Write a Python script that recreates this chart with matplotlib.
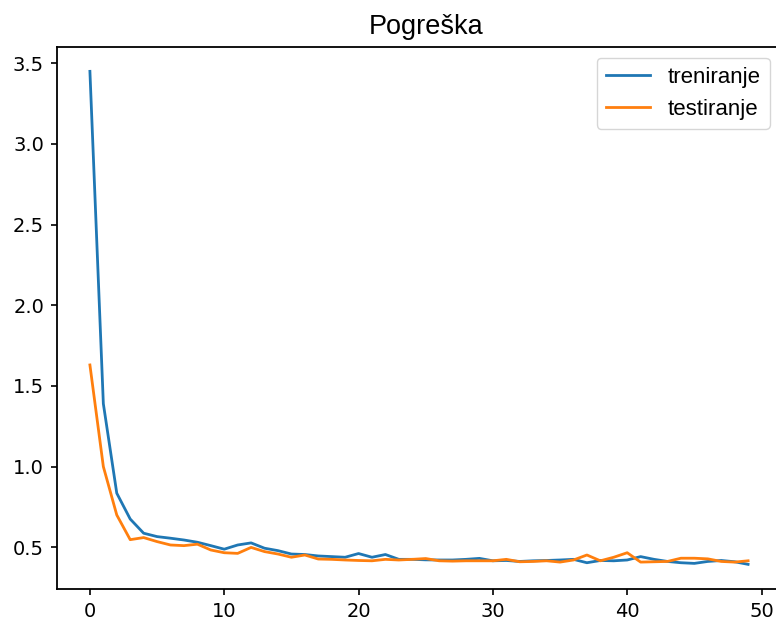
import numpy as np
import matplotlib
matplotlib.use("Agg")
import matplotlib.pyplot as plt

# loss per epoch
epochs = np.arange(50)
trainLoss = [3.45, 1.39, 0.835, 0.675, 0.587, 0.566, 0.556, 0.545, 0.531, 0.51,
             0.488, 0.514, 0.527, 0.494, 0.479, 0.458, 0.455, 0.446, 0.442, 0.438,
             0.461, 0.438, 0.455, 0.425, 0.425, 0.422, 0.421, 0.421, 0.425, 0.431,
             0.416, 0.418, 0.412, 0.416, 0.418, 0.421, 0.425, 0.404, 0.418, 0.416,
             0.421, 0.442, 0.425, 0.412, 0.404, 0.400, 0.412, 0.418, 0.410, 0.394]
testLoss = [1.63, 1.00, 0.70, 0.547, 0.560, 0.535, 0.514, 0.510, 0.519, 0.483,
            0.466, 0.462, 0.499, 0.473, 0.458, 0.438, 0.452, 0.427, 0.425, 0.421,
            0.418, 0.416, 0.425, 0.421, 0.425, 0.430, 0.416, 0.414, 0.416, 0.416,
            0.416, 0.425, 0.410, 0.412, 0.416, 0.408, 0.421, 0.452, 0.416, 0.438,
            0.466, 0.408, 0.410, 0.412, 0.432, 0.432, 0.428, 0.412, 0.408, 0.416]
seriesNames = ["treniranje", "testiranje"]

fig = plt.figure(figsize=(7.76, 6.21), dpi=100)
# right spine lies just outside the picture, as in the cropped reference
ax = fig.add_axes([57 / 776, 1 - 589 / 621, 724 / 776, 542.3 / 621])

ax.plot(epochs, trainLoss, color="#1f77b4", linewidth=2.0, label=seriesNames[0])
ax.plot(epochs, testLoss, color="#ff7f0e", linewidth=2.0, label=seriesNames[1])

ax.set_title("Pogreška", fontsize=19.5, family="Liberation Sans", x=0.51, pad=9)
ax.set_xticks([0, 10, 20, 30, 40, 50])
ax.set_yticks([0.5, 1.0, 1.5, 2.0, 2.5, 3.0, 3.5])
ax.tick_params(labelsize=14, length=4.3, width=1.2, pad=5)
for spine in ax.spines.values():
    spine.set_linewidth(1.3)

ax.legend(prop={"family": "Liberation Sans", "size": 16}, loc="upper right")

fig.savefig("out.png", dpi=100)
